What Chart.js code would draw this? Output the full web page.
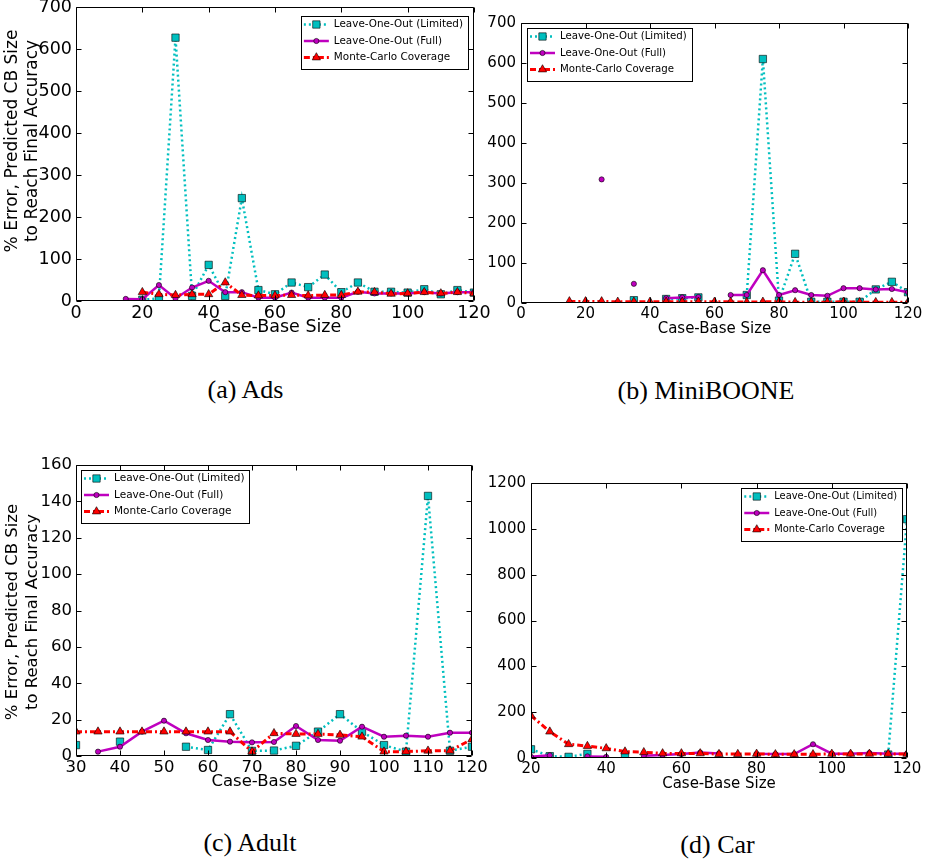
<!DOCTYPE html>
<html><head><meta charset="utf-8">
<script src="https://cdn.jsdelivr.net/npm/chart.js@4.4.0/dist/chart.umd.min.js"></script>
<style>
html,body{margin:0;padding:0;background:#fff;}
body{width:929px;height:862px;position:relative;overflow:hidden;}
canvas{position:absolute;}
.cap{position:absolute;width:300px;text-align:center;font-family:"Liberation Serif",serif;font-size:26px;line-height:30px;color:#000;white-space:nowrap;}
</style></head><body>
<div class="cap" id="capA"></div>
<div class="cap" id="capB"></div>
<div class="cap" id="capC"></div>
<div class="cap" id="capD"></div>
<script>
// ---- data ----
const seriesNames = ['Leave-One-Out (Limited)', 'Leave-One-Out (Full)', 'Monte-Carlo Coverage'];
const xTitle = 'Case-Base Size';
const yTitle = ['% Error, Predicted CB Size', 'to Reach Final Accuracy'];
const captions = ['(a) Ads', '(b) MiniBOONE', '(c) Adult', '(d) Car'];

const sizesA   = [15,20,25,30,35,40,45,50,55,60,65,70,75,80,85,90,95,100,105,110,115,120];
const limitedA = [null,3,6,627,12,86,12,245,26,16,44,33,63,21,44,22,22,20,28,16,26,20];
const fullA    = [5,4,38,6,32,48,21,21,8,8,20,8,8,8,22,18,18,18,21,18,21,21];
const mcA      = [null,21,16,14,16,16,44,14,13,13,14,13,14,14,22,21,17,18,21,18,21,18];
const xTicksA  = [0,20,40,60,80,100,120];
const yTicksA  = [0,100,200,300,400,500,600,700];

const sizesB   = [15,20,25,30,35,40,45,50,55,60,65,70,75,80,85,90,95,100,105,110,115,120];
const limitedB = [null,null,null,null,7,null,10,12,14,null,null,20,610,6,123,3,3,3,3,34,53,27];
const fullB    = [null,null,309,null,48,null,12,14,15,null,20,20,82,20,32,20,18,37,37,34,35,27];
const mcB      = [4,4,4,3,3,3,3,3,3,3,3,2,3,3,2,2,2,3,2,2,2,2];
const xTicksB  = [0,20,40,60,80,100,120];
const yTicksB  = [0,100,200,300,400,500,600,700];

const sizesC   = [30,35,40,45,50,55,60,65,70,75,80,85,90,95,100,105,110,115,120];
const limitedC = [6,null,7.9,null,null,5.1,3.3,23,2.8,3,5.6,13.4,23,13.4,6,2.4,143,2.9,5.1];
const fullC    = [null,2.4,5.1,13.4,19.4,12.5,8.8,7.9,7.5,7.7,16.5,8.8,8.4,16.1,10.6,11.2,10.6,12.8,12.8];
const mcC      = [13.4,13.4,13.4,13.4,13.4,13.4,13.4,13.4,2.4,12.5,12.1,12.1,11.6,10.6,2.4,2.4,2.9,2.9,9.2];
const xTicksC  = [30,40,50,60,70,80,90,100,110,120];
const yTicksC  = [0,20,40,60,80,100,120,140,160];

const sizesD   = [20,25,30,35,40,45,50,55,60,65,70,75,80,85,90,95,100,105,110,115,120];
const limitedD = [38,8,5,18,null,10,null,null,null,null,null,null,null,null,null,null,null,null,null,15,1042];
const fullD    = [5,12,null,7,5,null,10,13,17,24,20,null,18,17,17,60,19,19,22,19,19];
const mcD      = [185,115,60,52,42,28,25,20,20,20,17,17,18,16,16,16,18,18,18,18,18];
const xTicksD  = [20,40,60,80,100,120];
const yTicksD  = [0,200,400,600,800,1000,1200];

// ---- styles ----
const CYAN = '#00BFBF', MAG = '#BF00BF', RED = '#FF0000';
const FONT = 'DejaVu Sans';
const styles = [
  {color: CYAN, dash: [2,3], width: 2.5, point: 'rect', radius: 5.2, order: 3},
  {color: MAG, dash: [], width: 2.5, point: 'circle', radius: 2.6, order: 2},
  {color: RED, dash: [6,3,2,3], width: 3, point: 'triangle', radius: 4.8, order: 1}
];

function toPts(xs, ys){ return xs.map((x,i)=>({x:x, y:ys[i]})); }

function drawMarker(ctx, kind, x, y, r, fill){
  ctx.save();
  ctx.setLineDash([]);
  ctx.fillStyle = fill; ctx.strokeStyle = '#000'; ctx.lineWidth = 0.6;
  ctx.beginPath();
  if (kind === 'rect'){ const s = r*Math.SQRT1_2; ctx.rect(x-s,y-s,2*s,2*s); }
  else if (kind === 'circle'){ ctx.arc(x,y,r,0,Math.PI*2); }
  else { const a = 2*Math.PI/3; ctx.moveTo(x, y-r); ctx.lineTo(x+Math.sin(a)*r, y-Math.cos(a)*r); ctx.lineTo(x+Math.sin(2*a)*r, y-Math.cos(2*a)*r); ctx.closePath(); }
  ctx.fill(); ctx.stroke();
  ctx.restore();
}

function makePanel(p){
  const cv = document.createElement('canvas');
  cv.width = p.cw; cv.height = p.ch;
  cv.style.left = p.cx + 'px'; cv.style.top = p.cy + 'px';
  cv.style.width = p.cw + 'px'; cv.style.height = p.ch + 'px';
  document.body.appendChild(cv);
  const yw = p.L - p.cx, xh = p.cy + p.ch - p.B;
  const pt = p.T - p.cy, pr = p.cx + p.cw - p.R;
  const fs = p.fs, lh = fs * 1.2;
  const xTitlePad = (p.cy + p.ch) - p.xTitleY - lh/2;

  const framePlugin = {
    id: 'frame' + p.id,
    afterDatasetsDraw(chart){
      const {ctx, chartArea: a, scales: {x, y}} = chart;
      ctx.save();
      ctx.strokeStyle = '#000'; ctx.lineWidth = 1; ctx.setLineDash([]);
      const l = Math.round(a.left)+0.5, t = Math.round(a.top)+0.5, r = Math.round(a.right)-0.5, b = Math.round(a.bottom)-0.5;
      ctx.beginPath();
      ctx.rect(l, t, r-l, b-t);
      const TL = 5;
      x.ticks.forEach(tk => { const px = Math.round(x.getPixelForValue(tk.value)) + 0.5; ctx.moveTo(px, t); ctx.lineTo(px, t+TL); ctx.moveTo(px, b); ctx.lineTo(px, b-TL); });
      y.ticks.forEach(tk => { const py = Math.round(y.getPixelForValue(tk.value)) + 0.5; ctx.moveTo(l, py); ctx.lineTo(l+TL, py); ctx.moveTo(r, py); ctx.lineTo(r-TL, py); });
      ctx.stroke();
      ctx.restore();
    },
    afterDraw(chart){
      const ctx = chart.ctx;
      // y-axis title (two lines, rotated)
      if (p.showYTitle){
        ctx.save();
        ctx.font = p.yTitleFs + 'px "' + FONT + '"';
        ctx.fillStyle = '#000'; ctx.textAlign = 'center'; ctx.textBaseline = 'middle';
        ctx.translate(p.yTitleX - p.cx, p.yTitleCY - p.cy);
        ctx.rotate(-Math.PI/2);
        yTitle.forEach((line, i) => ctx.fillText(line, 0, i * p.yTitleLH));
        ctx.restore();
      }
      // legend
      const g = p.legend;
      const bx = g.x - p.cx, by = g.y - p.cy;
      ctx.save();
      ctx.font = g.fs + 'px "' + FONT + '"';
      let tw = 0; seriesNames.forEach(s => { tw = Math.max(tw, ctx.measureText(s).width); });
      const bw = 33 + tw + 5, bh = 53;
      const boxX = g.align === 'right' ? bx - bw : bx;
      ctx.fillStyle = '#fff';
      ctx.fillRect(boxX, by, bw, bh);
      ctx.strokeStyle = '#000'; ctx.lineWidth = 1;
      ctx.strokeRect(Math.round(boxX)+0.5, Math.round(by)+0.5, Math.round(bw), bh);
      seriesNames.forEach((name, i) => {
        const st = styles[i];
        const ry = by + 8.5 + i*16.5;
        ctx.beginPath();
        ctx.setLineDash(st.dash);
        ctx.strokeStyle = st.color; ctx.lineWidth = st.width;
        ctx.moveTo(boxX + 3, ry); ctx.lineTo(boxX + 28, ry);
        ctx.stroke();
        ctx.setLineDash([]);
        drawMarker(ctx, st.point, boxX + 15.5, ry, st.radius, st.color);
        ctx.fillStyle = '#000'; ctx.textBaseline = 'middle'; ctx.textAlign = 'left';
        ctx.fillText(name, boxX + 33, ry);
      });
      ctx.restore();
    }
  };

  const series = [p.limited, p.full, p.mc];
  const datasets = series.map((vals, i) => ({
    label: seriesNames[i],
    data: toPts(p.sizes, vals),
    borderColor: styles[i].color,
    backgroundColor: styles[i].color,
    borderDash: styles[i].dash,
    borderWidth: styles[i].width,
    pointStyle: styles[i].point,
    pointRadius: styles[i].radius,
    pointBackgroundColor: styles[i].color,
    pointBorderColor: '#000',
    pointBorderWidth: 0.6,
    order: styles[i].order,
    tension: 0,
    spanGaps: false,
    fill: false
  }));

  const tickFont = {family: FONT, size: fs};
  const plain = v => String(v);

  new Chart(cv, {
    type: 'line',
    data: {datasets},
    options: {
      responsive: false, animation: false, devicePixelRatio: 1,
      layout: {padding: {left: 0, top: pt, right: pr, bottom: 0}},
      plugins: {legend: {display: false}, tooltip: {enabled: false}},
      scales: {
        x: {
          type: 'linear', min: p.xTicks[0], max: p.xTicks[p.xTicks.length-1],
          afterBuildTicks: s => { s.ticks = p.xTicks.map(v => ({value: v})); },
          afterFit: s => { s.height = xh; s.paddingTop = 0; s.paddingBottom = 0; s.paddingLeft = 0; s.paddingRight = 0; },
          grid: {display: false, drawTicks: false}, border: {display: false},
          ticks: {color: '#000', font: tickFont, padding: 2, maxRotation: 0, autoSkip: false, callback: plain},
          title: {display: true, text: xTitle, color: '#000', font: {family: FONT, size: fs, lineHeight: 1.2}, padding: {top: 0, bottom: xTitlePad}}
        },
        y: {
          type: 'linear', min: p.yTicks[0], max: p.yTicks[p.yTicks.length-1],
          afterBuildTicks: s => { s.ticks = p.yTicks.map(v => ({value: v})); },
          afterFit: s => { s.width = yw; s.paddingTop = 0; s.paddingBottom = 0; s.paddingLeft = 0; s.paddingRight = 0; },
          grid: {display: false, drawTicks: false}, border: {display: false},
          ticks: {color: '#000', font: tickFont, padding: p.yPad, autoSkip: false, callback: plain}
        }
      }
    },
    plugins: [framePlugin]
  });
}

makePanel({id:'A', cx:0, cy:0, cw:500, ch:345, L:76, T:7, R:474, B:301, xTitleY:327, fs:17.5, yPad:4,
  sizes:sizesA, limited:limitedA, full:fullA, mc:mcA, xTicks:xTicksA, yTicks:yTicksA,
  showYTitle:true, yTitleFs:17, yTitleX:13, yTitleCY:141, yTitleLH:19.5, legend:{x:468, y:16, align:'right', fs:10.4}});
makePanel({id:'B', cx:480, cy:0, cw:445, ch:345, L:521, T:23, R:908, B:303, xTitleY:329, fs:15, yPad:5,
  sizes:sizesB, limited:limitedB, full:fullB, mc:mcB, xTicks:xTicksB, yTicks:yTicksB,
  showYTitle:false, legend:{x:527, y:28, align:'left', fs:10.2}});
makePanel({id:'C', cx:0, cy:455, cw:500, ch:345, L:76, T:465, R:472, B:756, xTitleY:782, fs:16.5, yPad:4,
  sizes:sizesC, limited:limitedC, full:fullC, mc:mcC, xTicks:xTicksC, yTicks:yTicksC,
  showYTitle:true, yTitleFs:16.5, yTitleX:13, yTitleCY:612, yTitleLH:19.5, legend:{x:81, y:470, align:'left', fs:10.5}});
makePanel({id:'D', cx:480, cy:455, cw:445, ch:345, L:531, T:483, R:907, B:758, xTitleY:784, fs:15, yPad:5,
  sizes:sizesD, limited:limitedD, full:fullD, mc:mcD, xTicks:xTicksD, yTicks:yTicksD,
  showYTitle:false, legend:{x:902, y:488, align:'right', fs:9.9}});

// captions
const capPos = [[245.5, 390], [706, 391], [250, 843], [717.5, 845]];
['capA','capB','capC','capD'].forEach((id, i) => {
  const el = document.getElementById(id);
  el.textContent = captions[i];
  el.style.left = (capPos[i][0] - 150) + 'px';
  el.style.top = (capPos[i][1] - 15) + 'px';
});
</script>
</body></html>
